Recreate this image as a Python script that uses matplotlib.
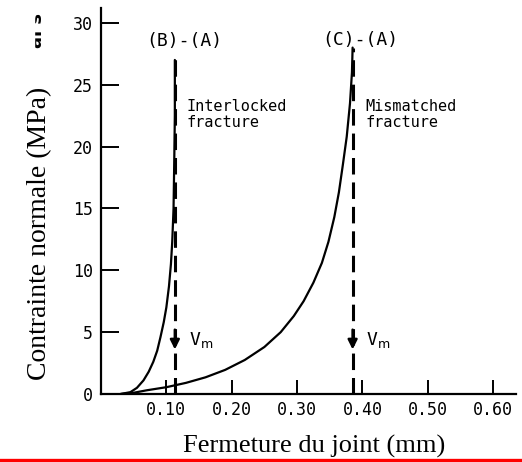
import matplotlib
matplotlib.use("Agg")
import matplotlib.pyplot as plt
from matplotlib.lines import Line2D
from matplotlib.patches import Rectangle

# ---- données ----
# (B)-(A) : joint imbriqué
b_x = [0.030, 0.045, 0.055, 0.065, 0.073, 0.080, 0.086, 0.091, 0.096, 0.100,
       0.104, 0.107, 0.109, 0.111, 0.112, 0.113, 0.113]
b_y = [0.0, 0.15, 0.5, 1.1, 1.8, 2.6, 3.5, 4.6, 5.8, 7.0,
       8.7, 10.5, 12.3, 15.0, 18.5, 22.5, 27.0]

# (C)-(A) : joint non imbriqué
c_x = [0.030, 0.05, 0.07, 0.10, 0.13, 0.16, 0.19, 0.22, 0.25, 0.275, 0.295,
       0.31, 0.325, 0.338, 0.348, 0.357, 0.364, 0.370, 0.376, 0.381, 0.384, 0.385]
c_y = [0.0, 0.1, 0.3, 0.55, 0.9, 1.35, 1.95, 2.75, 3.8, 5.0, 6.3,
       7.5, 9.0, 10.6, 12.3, 14.3, 16.3, 18.5, 20.8, 23.5, 26.0, 28.0]

# fermeture maximale Vm
vm_x = [0.113, 0.385]
vm_top = [27.1, 28.0]
vm_arrow_y = 3.6

x_ticks = [0.10, 0.20, 0.30, 0.40, 0.50, 0.60]
x_labels = ["0.10", "0.20", "0.30", "0.40", "0.50", "0.60"]
y_ticks = [0, 5, 10, 15, 20, 25, 30]

mono = "DejaVu Sans Mono"
serif = "Liberation Serif"

W, H = 522, 462
fig = plt.figure(figsize=(W / 100, H / 100), dpi=100)
ax = fig.add_axes([101 / W, 68 / H, 415 / W, 386 / H])

# courbes
ax.plot(b_x, b_y, color="black", lw=1.6, solid_capstyle="round")
ax.plot(c_x, c_y, color="black", lw=1.6, solid_capstyle="round")

# lignes verticales pointillées + flèches Vm
for x, top in zip(vm_x, vm_top):
    ax.plot([x, x], [0, top], color="black", lw=2.2, linestyle=(0, (5.4, 2.6)))
    ax.annotate("", xy=(x, vm_arrow_y), xytext=(x, vm_arrow_y + 1.6),
                arrowprops=dict(arrowstyle="-|>", color="black", lw=1.8,
                                mutation_scale=14, shrinkA=0, shrinkB=0))
    ax.text(x + 0.021, 4.4, r"V$_{\rm m}$", fontsize=13, family=mono,
            ha="left", va="center")

# annotations
ax.text(0.128, 28.5, "(B)-(A)", fontsize=13, family=mono, ha="center", va="center")
ax.text(0.397, 28.6, "(C)-(A)", fontsize=13, family=mono, ha="center", va="center")
ax.text(0.131, 22.6, "Interlocked\nfracture", fontsize=11, family=mono,
        ha="left", va="center", linespacing=1.1)
ax.text(0.404, 22.6, "Mismatched\nfracture", fontsize=11, family=mono,
        ha="left", va="center", linespacing=1.1)

# axes
ax.set_xlim(0, 0.635)
ax.set_ylim(0, 31.2)
ax.set_xticks(x_ticks)
ax.set_xticklabels(x_labels, family=mono, fontsize=12)
ax.set_yticks(y_ticks)
ax.set_yticklabels([str(v) for v in y_ticks], family=mono, fontsize=12)
ax.tick_params(axis="y", direction="in", length=13, width=1.4, pad=6)
ax.tick_params(axis="x", direction="in", length=10, width=1.4, pad=5)
for s in ["top", "right"]:
    ax.spines[s].set_visible(False)
for s in ["left", "bottom"]:
    ax.spines[s].set_linewidth(1.6)

# titres des axes
fig.text(40 / W, 1 - 233 / H, "Contrainte normale (MPa)", family=serif,
         fontsize=20, rotation=90, ha="center", va="center")
fig.text(314 / W, 1 - 453 / H, "Fermeture du joint (mm)", family=serif,
         fontsize=19, ha="center", va="baseline")

# reste du titre d'origine, rogné à gauche
fig.text(37 / W, 1 - 30 / H, "al s", fontsize=13, fontweight="bold",
         rotation=90, ha="center", va="center")
fig.add_artist(Rectangle((0, 1 - 60 / H), 34 / W, 60 / H,
                         transform=fig.transFigure, color="white", zorder=5))

# trait rouge en bas
fig.add_artist(Line2D([0, 1], [1 - 460 / H, 1 - 460 / H], color="red", lw=2.4,
                      transform=fig.transFigure))

fig.savefig("out.png", dpi=100, facecolor="white")
